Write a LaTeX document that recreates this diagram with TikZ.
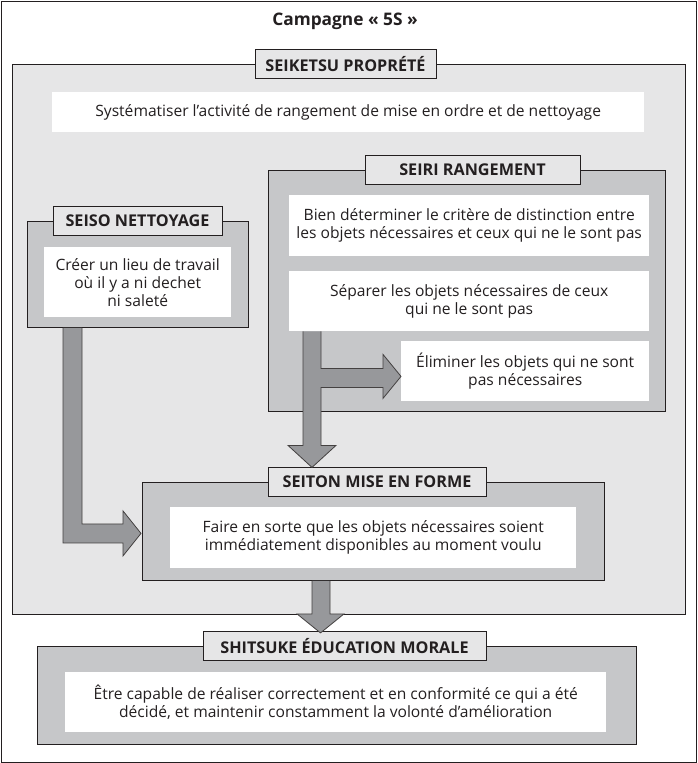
\documentclass[tikz,border=0pt]{standalone}
\usepackage{fontspec}
\setmainfont{Open Sans}
\usetikzlibrary{positioning,calc}
\definecolor{bglight}{HTML}{E6E6E7}
\definecolor{panelgray}{HTML}{C6C7C9}
\definecolor{arrowgray}{HTML}{97989B}
\definecolor{inkdark}{HTML}{231F20}
\newcommand\boxtext{\fontsize{15.6}{18}\selectfont}
\newcommand\tagtext{\fontsize{16.2}{18}\selectfont\bfseries}
\tikzset{
  frame/.style={draw=inkdark,line width=0.9pt},
  outer/.style={frame,fill=bglight,anchor=north west,inner sep=0pt},
  panel/.style={frame,fill=panelgray,anchor=north west,inner sep=0pt},
  whitebox/.style={fill=white,anchor=north west,inner sep=0pt,align=center,text=inkdark,font=\boxtext},
  tagbox/.style={frame,fill=bglight,inner sep=0pt,minimum height=29pt,text=inkdark,font=\tagtext},
  blockarrow/.style={draw=inkdark!85,line width=0.8pt,fill=arrowgray,line join=miter}
}

\begin{document}
\begin{tikzpicture}[x=1pt,y=-1pt]
\useasboundingbox (0,0) rectangle (697,763);
\draw[frame,fill=white] (1,1) rectangle (696,762);
\node[text=inkdark,font=\fontsize{17.3}{18}\selectfont\bfseries] (title) at (345,21) {Campagne « 5S »};

% panels
\node[outer,minimum width=673pt,minimum height=550pt] (seiketsu) at (12,64) {};
\node[panel,minimum width=397pt,minimum height=241pt] (seiri) at (268,170) {};
\node[panel,minimum width=221pt,minimum height=106pt] (seiso) at (27,221) {};
\node[panel,minimum width=462pt,minimum height=98pt] (seiton) at (142,482) {};
\node[panel,minimum width=599pt,minimum height=98pt] (shitsuke) at (37,646) {};

% white boxes
\node[whitebox,minimum width=592pt,minimum height=40pt] (seiketsuB) at (52,92)
  {Systématiser l’activité de rangement de mise en ordre et de nettoyage};
\node[whitebox,minimum width=360pt,minimum height=61pt] (critB) at (289,195)
  {Bien déterminer le critère de distinction entre\\les objets nécessaires et ceux qui ne le sont pas};
\node[whitebox,minimum width=360pt,minimum height=60pt] (sepB) at (289,271)
  {Séparer les objets nécessaires de ceux\\qui ne le sont pas};
\node[whitebox,minimum width=248pt,minimum height=60pt] (elimB) at (401,341)
  {Éliminer les objets qui ne sont\\pas nécessaires};
\node[whitebox,minimum width=187pt,minimum height=70pt] (seisoB) at (44,247)
  {Créer un lieu de travail\\où il y a ni dechet\\ni saleté};
\node[whitebox,minimum width=406pt,minimum height=61pt] (seitonB) at (170,507)
  {Faire en sorte que les objets nécessaires soient\\immédiatement disponibles au moment voulu};
\node[whitebox,minimum width=541pt,minimum height=60pt] (shitsukeB) at (65,672)
  {Être capable de réaliser correctement et en conformité ce qui a été\\décidé, et maintenir constamment la volonté d’amélioration};

% tags
\node[tagbox,minimum width=181pt] (seiketsuT) at (345.5,64) {SEIKETSU PROPRÉTÉ};
\node[tagbox,minimum width=215pt] (seiriT) at (472.5,170) {SEIRI RANGEMENT};
\node[tagbox,minimum width=169pt] (seisoT) at (137.5,221) {SEISO NETTOYAGE};
\node[tagbox,minimum width=218pt] (seitonT) at (377,482) {SEITON MISE EN FORME};
\node[tagbox,minimum width=283pt] (shitsukeT) at (344.5,646) {SHITSUKE ÉDUCATION MORALE};

% block arrows
\draw[blockarrow] ($(seiso.south west)+(36,0)$) -- ++(0,215) -- ++(60,0) -- ++(0,13)
  -- ++(18,-22.5) -- ++(-18,-22.5) -- ++(0,13) -- ++(-41,0) -- ++(0,-196);
\draw[blockarrow] ($(sepB.south west)+(14,0)$) -- ++(0,114) -- ++(-15,0) -- ++(24,22)
  -- ++(24,-22) -- ++(-15,0) -- ++(0,-58) -- ++(62,0) -- ++(0,11) -- ++(18,-22)
  -- ++(-18,-22) -- ++(0,14) -- ++(-62,0) -- ++(0,-37);
\draw[blockarrow] ($(seiton.south west)+(170,0)$) -- ++(0,33) -- ++(-15,0) -- ++(23.5,19)
  -- ++(23.5,-19) -- ++(-14,0) -- ++(0,-33);
\end{tikzpicture}
\end{document}
